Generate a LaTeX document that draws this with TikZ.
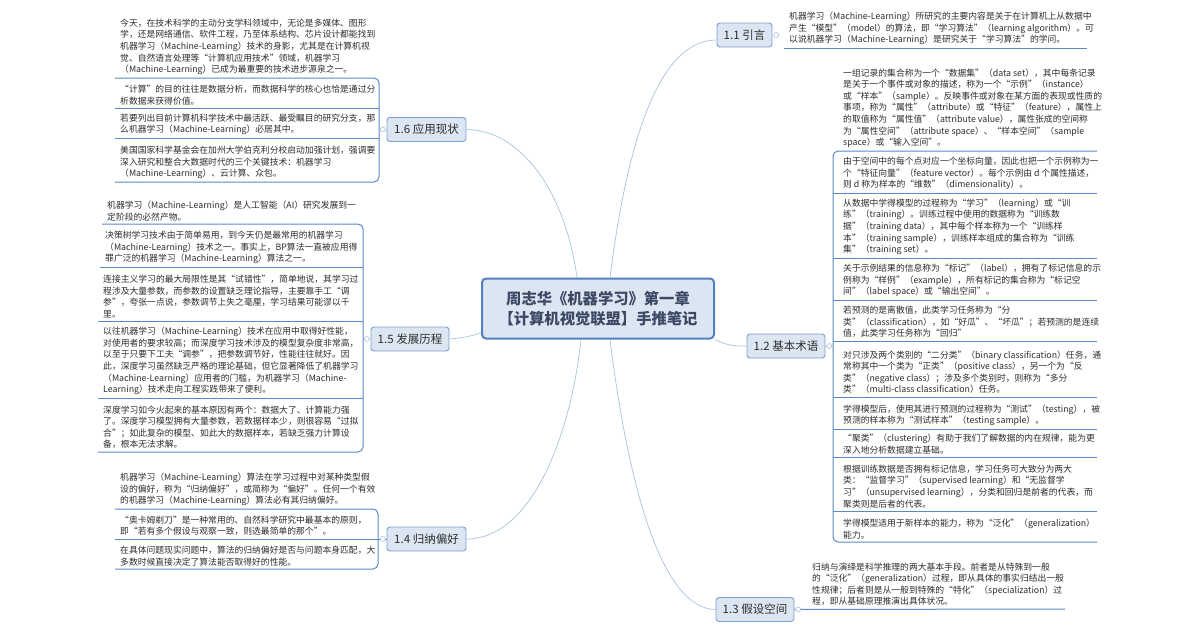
\documentclass[tikz,border=0pt]{standalone}
\usepackage{fontspec}
\setmainfont{Noto Sans CJK SC}
\usepackage{tikz}
\usepackage{xcolor}
\usetikzlibrary{positioning}
\definecolor{mapfill}{RGB}{220,230,242}
\definecolor{mapedge}{RGB}{125,158,204}
\definecolor{rootedge}{RGB}{82,128,192}
\definecolor{roottext}{RGB}{60,72,100}
\definecolor{leafline}{RGB}{92,136,200}
\definecolor{linkblue}{RGB}{170,194,226}
\definecolor{inkgray}{RGB}{45,45,45}

\begin{document}
\begin{tikzpicture}[
  x=1pt,y=-1pt,
  root/.style={draw=rootedge, line width=2pt, fill=mapfill, rounded corners=4pt,
    minimum width=232pt, minimum height=60pt, align=center, text=roottext,
    font=\fontsize{15.3}{19.5}\selectfont\bfseries},
  topic/.style={draw=mapedge, line width=0.9pt, fill=mapfill, rounded corners=3pt,
    minimum width=78pt, minimum height=24pt, inner sep=0pt, text=inkgray,
    font=\fontsize{11.5}{13}\selectfont},
  leaf/.style={anchor=south west, align=left, inner xsep=5pt, inner ysep=3pt,
    text=inkgray, font=\fontsize{8.8}{11.6}\selectfont},
  uline/.style={draw=leafline, line width=1pt, rounded corners=5pt},
  link/.style={draw=linkblue, line width=0.7pt},
  knob/.style={circle, draw=linkblue, fill=white, line width=0.6pt,
    inner sep=0pt, minimum size=5pt}
]
\useasboundingbox[fill=white] (0,0) rectangle (1200,630);

% centre and main topics
\node[root] (root) at (598,308.5) {周志华《机器学习》第一章\\【计算机视觉联盟】手推笔记};
\node[topic, minimum width=55pt] (t11) at (744.5,35) {1.1 引言};
\node[topic] (t12) at (786,346) {1.2 基本术语};
\node[topic] (t13) at (755,609.5) {1.3 假设空间};
\node[topic, minimum width=79pt] (t14) at (426.5,539) {1.4 归纳偏好};
\node[topic] (t15) at (410,339) {1.5 发展历程};
\node[topic, minimum width=79pt] (t16) at (426.5,129.5) {1.6 应用现状};

\draw[link] ([xshift=12pt]root.north) .. controls (630,120) and (665,40) .. ([yshift=-5pt]t11.west);
\draw[link] (root.south east) .. controls (728,346) and (735,346) .. (t12.west);
\draw[link] ([xshift=12pt]root.south) .. controls (630,500) and (665,609) .. (t13.west);
\draw[link] ([xshift=-17pt]root.south) .. controls (570,440) and (530,539) .. (t14.east);
\draw[link] ([yshift=-24pt]root.west) .. controls (470,337) and (460,338) .. (t15.east);
\draw[link] ([xshift=-21pt]root.north) .. controls (565,190) and (520,130) .. (t16.east);

% 1.1
\node[leaf] (l11a) at (784,48) {机器学习（Machine-Learning）所研究的主要内容是关于在计算机上从数据中\\产生“模型”（model）的算法，即“学习算法”（learning algorithm）。可\\以说机器学习（Machine-Learning）是研究关于“学习算法”的学问。};
\coordinate (r11) at (1087,48);
\draw[uline] (l11a.south west) -- (l11a.south west -| r11);

% 1.2
\node[leaf] (l12a) at (838,151) {一组记录的集合称为一个“数据集”（data set），其中每条记录\\是关于一个事件或对象的描述，称为一个“示例”（instance）\\或“样本”（sample）。反映事件或对象在某方面的表现或性质的\\事项，称为“属性”（attribute）或“特征”（feature），属性上\\的取值称为“属性值”（attribute value），属性张成的空间称\\为“属性空间”（attribute space）、“样本空间”（sample\\space）或“输入空间”。};
\node[leaf] (l12b) at (838,193) {由于空间中的每个点对应一个坐标向量，因此也把一个示例称为一\\个“特征向量”（feature vector）。每个示例由 d 个属性描述，\\则 d 称为样本的“维数”（dimensionality）。};
\node[leaf] (l12c) at (838,258) {从数据中学得模型的过程称为“学习”（learning）或“训\\练”（training）。训练过程中使用的数据称为“训练数\\据”（training data），其中每个样本称为一个“训练样\\本”（training sample），训练样本组成的集合称为“训练\\集”（training set）。};
\node[leaf] (l12d) at (838,300) {关于示例结果的信息称为“标记”（label），拥有了标记信息的示\\例称为“样例”（example），所有标记的集合称为“标记空\\间”（label space）或“输出空间”。};
\node[leaf] (l12e) at (838,341) {若预测的是离散值，此类学习任务称为“分\\类”（classification），如“好瓜”、“坏瓜”；若预测的是连续\\值，此类学习任务称为“回归”};
\node[leaf] (l12f) at (838,397) {对只涉及两个类别的“二分类”（binary classification）任务，通\\常称其中一个类为“正类”（positive class），另一个为“反\\类”（negative class）；涉及多个类别时，则称为“多分\\类”（multi-class classification）任务。};
\node[leaf] (l12g) at (838,429) {学得模型后，使用其进行预测的过程称为“测试”（testing），被\\预测的样本称为“测试样本”（testing sample）。};
\node[leaf] (l12h) at (838,457) {“聚类”（clustering）有助于我们了解数据的内在规律，能为更\\深入地分析数据建立基础。};
\node[leaf] (l12i) at (838,511) {根据训练数据是否拥有标记信息，学习任务可大致分为两大\\类：“监督学习”（supervised learning）和“无监督学\\习”（unsupervised learning），分类和回归是前者的代表，而\\聚类则是后者的代表。};
\node[leaf] (l12j) at (838,542) {学得模型适用于新样本的能力，称为“泛化”（generalization）\\能力。};
\coordinate (b12) at (833,346);
\coordinate (r12) at (1097,346);
\draw[uline] (l12a.south west -| r12) -- (l12a.south west -| b12) -- (l12j.south west -| b12) -- (l12j.south west -| r12);
\foreach \nm in {l12b,l12c,l12d,l12e,l12f,l12g,l12h,l12i}
  \draw[uline] (\nm.south west -| b12) -- (\nm.south west -| r12);
\draw[link] (t12.east) -- (b12);

% 1.3
\node[leaf] (l13a) at (807,609) {归纳与演绎是科学推理的两大基本手段。前者是从特殊到一般\\的“泛化”（generalization）过程，即从具体的事实归结出一般\\性规律；后者则是从一般到特殊的“特化”（specialization）过\\程，即从基础原理推演出具体状况。};
\coordinate (r13) at (1065,609);
\draw[uline] (t13.east) -- (r13);

% 1.4
\node[leaf] (l14a) at (115,509) {机器学习（Machine-Learning）算法在学习过程中对某种类型假\\设的偏好，称为“归纳偏好”，或简称为“偏好”。任何一个有效\\的机器学习（Machine-Learning）算法必有其归纳偏好。};
\node[leaf] (l14b) at (115,539) {“奥卡姆剃刀”是一种常用的、自然科学研究中最基本的原则，\\即“若有多个假设与观察一致，则选最简单的那个”。};
\node[leaf] (l14c) at (115,569) {在具体问题现实问题中，算法的归纳偏好是否与问题本身匹配，大\\多数时候直接决定了算法能否取得好的性能。};
\coordinate (b14) at (378,539);
\draw[uline] (l14a.south west) -- (l14a.south west -| b14) -- (l14c.south west -| b14) -- (l14c.south west);
\draw[uline] (l14b.south west) -- (t14.west);

% 1.5
\node[leaf] (l15a) at (102,224) {机器学习（Machine-Learning）是人工智能（AI）研究发展到一\\定阶段的必然产物。};
\node[leaf] (l15b) at (100,267) {决策树学习技术由于简单易用，到今天仍是最常用的机器学习\\（Machine-Learning）技术之一。事实上，BP算法一直被应用得\\罪广泛的机器学习（Machine-Learning）算法之一。};
\node[leaf] (l15c) at (98,321) {连接主义学习的最大局限性是其“试错性”，简单地说，其学习过\\程涉及大量参数，而参数的设置缺乏理论指导，主要靠手工“调\\参”，夸张一点说，参数调节上失之毫厘，学习结果可能谬以千\\里。};
\node[leaf] (l15d) at (98,398) {以往机器学习（Machine-Learning）技术在应用中取得好性能，\\对使用者的要求较高；而深度学习技术涉及的模型复杂度非常高，\\以至于只要下工夫“调参”，把参数调节好，性能往往就好。因\\此，深度学习虽然缺乏严格的理论基础，但它显著降低了机器学习\\（Machine-Learning）应用者的门槛，为机器学习（Machine-\\Learning）技术走向工程实践带来了便利。};
\node[leaf] (l15e) at (98,452) {深度学习如今火起来的基本原因有两个：数据大了、计算能力强\\了。深度学习模型拥有大量参数，若数据样本少，则很容易“过拟\\合”；如此复杂的模型、如此大的数据样本，若缺乏强力计算设\\备，根本无法求解。};
\coordinate (b15) at (363,338);
\draw[uline] (l15a.south west) -- (l15a.south west -| b15) -- (l15e.south west -| b15) -- (l15e.south west);
\foreach \nm in {l15b,l15c,l15d}
  \draw[uline] (\nm.south west) -- (\nm.south west -| b15);
\draw[link] (b15) -- (t15.west);

% 1.6
\node[leaf] (l16a) at (115,78) {今天，在技术科学的主动分支学科领域中，无论是多媒体、图形\\学，还是网络通信、软件工程，乃至体系结构、芯片设计都能找到\\机器学习（Machine-Learning）技术的身影，尤其是在计算机视\\觉、自然语言处理等“计算机应用技术”领域，机器学习\\（Machine-Learning）已成为最重要的技术进步源泉之一。};
\node[leaf] (l16b) at (115,108) {“计算”的目的往往是数据分析，而数据科学的核心也恰是通过分\\析数据来获得价值。};
\node[leaf] (l16c) at (115,138) {若要列出目前计算机科学技术中最活跃、最受瞩目的研究分支，那\\么机器学习（Machine-Learning）必居其中。};
\node[leaf] (l16d) at (115,182) {美国国家科学基金会在加州大学伯克利分校启动加强计划，强调要\\深入研究和整合大数据时代的三个关键技术：机器学习\\（Machine-Learning）、云计算、众包。};
\coordinate (b16) at (379,130);
\draw[uline] (l16a.south west) -- (l16a.south west -| b16) -- (l16d.south west -| b16) -- (l16d.south west);
\foreach \nm in {l16b,l16c}
  \draw[uline] (\nm.south west) -- (\nm.south west -| b16);
\draw[link] (b16) -- (t16.west);

% collapse knobs
\node[knob, right=1pt of t11] (k11) {};
\node[knob, right=1pt of t12] (k12) {};
\node[knob, right=1pt of t13] (k13) {};
\node[knob, left=1pt of t14] (k14) {};
\node[knob, left=1pt of t15] (k15) {};
\node[knob, left=1pt of t16] (k16) {};
\end{tikzpicture}
\end{document}
